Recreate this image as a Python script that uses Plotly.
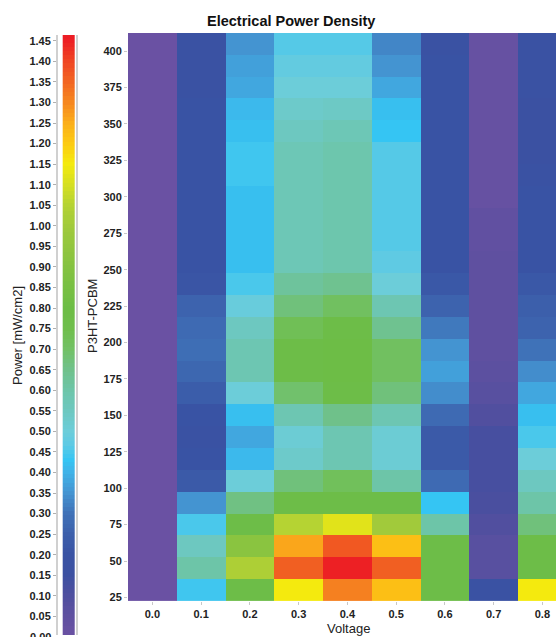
import numpy as np
import plotly.graph_objects as go

W, H = 556, 637

# Axes categories
voltage = [0.0, 0.1, 0.2, 0.3, 0.4, 0.5, 0.6, 0.7, 0.8]
p3ht_pcbm = [30, 45, 60, 75, 90, 105, 120, 135, 150, 165, 180, 195, 210,
             225, 240, 255, 270, 285, 300, 315, 330, 345, 360, 375, 390, 405]

# Power density [mW/cm2] per voltage column, listed from 405 down to 30
p_v00 = [0.0] * 26
p_v01 = [0.19, 0.19, 0.19, 0.20, 0.20, 0.20, 0.20, 0.20, 0.20, 0.20, 0.20, 0.21, 0.26,
         0.28, 0.29, 0.27, 0.24, 0.20, 0.18, 0.20, 0.23, 0.35, 0.45, 0.55, 0.60, 0.44]
p_v02 = [0.35, 0.37, 0.38, 0.41, 0.42, 0.44, 0.44, 0.42, 0.42, 0.42, 0.42, 0.45, 0.49,
         0.55, 0.58, 0.58, 0.50, 0.42, 0.38, 0.41, 0.50, 0.66, 0.78, 0.92, 1.03, 0.78]
p_v03 = [0.46, 0.48, 0.50, 0.53, 0.55, 0.57, 0.57, 0.57, 0.57, 0.57, 0.57, 0.62, 0.67,
         0.73, 0.78, 0.78, 0.69, 0.58, 0.51, 0.53, 0.67, 0.78, 1.05, 1.26, 1.36, 1.15]
p_v04 = [0.46, 0.48, 0.50, 0.54, 0.57, 0.59, 0.59, 0.59, 0.59, 0.59, 0.59, 0.64, 0.71,
         0.78, 0.79, 0.79, 0.78, 0.65, 0.58, 0.58, 0.72, 0.78, 1.12, 1.37, 1.45, 1.31]
p_v05 = [0.33, 0.35, 0.38, 0.42, 0.43, 0.46, 0.46, 0.46, 0.46, 0.46, 0.47, 0.50, 0.58,
         0.64, 0.71, 0.71, 0.67, 0.58, 0.51, 0.51, 0.60, 0.78, 1.00, 1.22, 1.36, 1.22]
p_v06 = [0.19, 0.20, 0.20, 0.20, 0.20, 0.20, 0.20, 0.20, 0.20, 0.20, 0.20, 0.22, 0.26,
         0.31, 0.35, 0.37, 0.34, 0.28, 0.23, 0.23, 0.28, 0.43, 0.60, 0.78, 0.78, 0.78]
p_v07 = [0.02, 0.02, 0.02, 0.02, 0.02, 0.02, 0.02, 0.02, 0.04, 0.04, 0.05, 0.05, 0.05,
         0.05, 0.05, 0.06, 0.07, 0.09, 0.12, 0.12, 0.12, 0.11, 0.09, 0.07, 0.07, 0.18]
p_v08 = [0.19, 0.19, 0.19, 0.17, 0.17, 0.17, 0.18, 0.20, 0.20, 0.20, 0.20, 0.22, 0.25,
         0.26, 0.30, 0.34, 0.38, 0.42, 0.45, 0.50, 0.55, 0.60, 0.67, 0.78, 0.78, 1.15]

columns = [p_v00, p_v01, p_v02, p_v03, p_v04, p_v05, p_v06, p_v07, p_v08]
z = np.array([c[::-1] for c in columns]).T  # rows follow p3ht_pcbm ascending

# Colour scale stops (power value -> colour)
Z_MIN, Z_MAX = 0.0, 1.465
scale_stops = [
    (0.00, "#6a51a3"), (0.05, "#5f50a0"), (0.10, "#4e4f9f"), (0.15, "#3c50a1"),
    (0.20, "#3953a4"), (0.25, "#3c5fab"), (0.30, "#3f72b8"), (0.35, "#4494d1"),
    (0.40, "#3fb3e8"), (0.43, "#35c5f3"), (0.47, "#5fcae3"), (0.50, "#6ccdd9"),
    (0.55, "#6dc8c0"), (0.60, "#6dc5a8"), (0.65, "#6fc18a"), (0.70, "#72c165"),
    (0.75, "#6fbe4c"), (0.80, "#6cbd45"), (0.90, "#84c241"), (1.00, "#a1ca3b"),
    (1.05, "#b5d333"), (1.10, "#d5df22"), (1.15, "#f4ea0e"), (1.20, "#fccb12"),
    (1.25, "#fbae1a"), (1.30, "#f6871f"), (1.35, "#f26522"), (1.40, "#ef4523"),
    (1.45, "#ed2024"), (1.465, "#ec1c24"),
]
colorscale = [[(v - Z_MIN) / (Z_MAX - Z_MIN), c] for v, c in scale_stops]

# Scale legend bands (0.01 steps)
legend_vals = np.round(np.arange(0.0, 1.461, 0.01), 2)

FONT = "Liberation Sans, Arial, sans-serif"
TICKFONT = dict(family=FONT, size=11, color="#222222", weight="bold")


def px_x(p):
    return p / W


def px_y(p):
    return 1 - p / H


fig = go.Figure()

fig.add_trace(go.Heatmap(
    x=voltage, y=p3ht_pcbm, z=z,
    colorscale=colorscale, zmin=Z_MIN, zmax=Z_MAX,
    showscale=False, xaxis="x", yaxis="y",
))

fig.add_trace(go.Heatmap(
    x=[0], y=legend_vals, z=[[v] for v in legend_vals],
    colorscale=colorscale, zmin=Z_MIN, zmax=Z_MAX,
    showscale=False, xaxis="x2", yaxis="y2", hoverinfo="skip",
))

fig.update_layout(
    width=W, height=H,
    margin=dict(l=0, r=0, t=0, b=0),
    paper_bgcolor="white", plot_bgcolor="white",
    font=dict(family=FONT, size=11, color="#222222"),
    xaxis=dict(
        domain=[px_x(128), 1.0], range=[-0.05, 0.828],
        tickvals=voltage, ticktext=[f"{v:.1f}" for v in voltage],
        ticks="outside", ticklen=3, tickcolor="#c8c8c8",
        showgrid=False, zeroline=False, showline=False,
        tickfont=TICKFONT,
    ),
    yaxis=dict(
        domain=[px_y(603), px_y(33)], range=[22.5, 412.5],
        tick0=0, dtick=25,
        ticks="outside", ticklen=3, tickcolor="#c8c8c8",
        showgrid=False, zeroline=False, showline=False,
        tickfont=TICKFONT,
    ),
    xaxis2=dict(
        domain=[px_x(58), px_x(76)], range=[-0.905, 0.647],
        visible=False, anchor="y2",
    ),
    yaxis2=dict(
        domain=[0.0, px_y(35)], range=[0.0048, 1.4645],
        anchor="x2", side="left",
        tick0=0, dtick=0.05, tickformat=".2f",
        ticks="outside", ticklen=3, tickcolor="#b0b0b0",
        showline=True, linecolor="#d0d0d0", linewidth=2, mirror=True,
        showgrid=False, zeroline=False,
        tickfont=TICKFONT,
    ),
)

annotations = [
    dict(text="<b>Electrical Power Density</b>", x=px_x(291), y=px_y(21),
         font=dict(family=FONT, size=14.5, color="#111111")),
    dict(text="Voltage", x=px_x(348), y=px_y(630),
         font=dict(family=FONT, size=13, color="#222222")),
    dict(text="P3HT-PCBM", x=px_x(92), y=px_y(317), textangle=-90,
         font=dict(family=FONT, size=13, color="#222222")),
    dict(text="Power [mW/cm2]", x=px_x(18), y=px_y(337), textangle=-90,
         font=dict(family=FONT, size=13, color="#222222")),
    dict(text="0.00", x=px_x(53), y=px_y(639), xanchor="right",
         font=TICKFONT),
]
for a in annotations:
    a.setdefault("xanchor", "center")
    fig.add_annotation(xref="paper", yref="paper", yanchor="middle",
                       showarrow=False, **a)

fig.write_html("out.html")
